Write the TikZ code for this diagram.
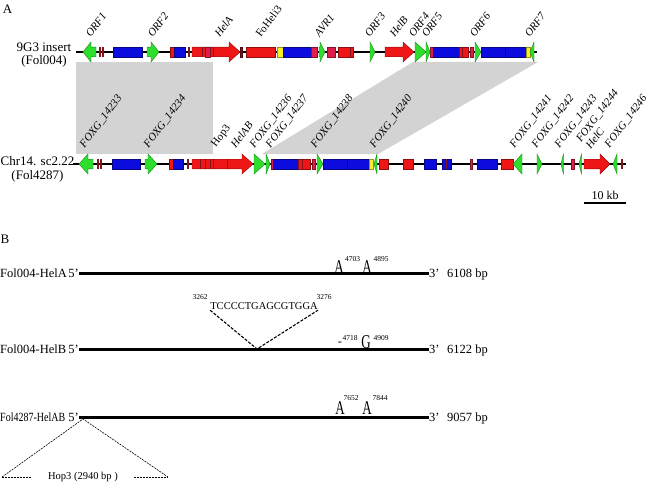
\documentclass[tikz,border=0pt]{standalone}
\usepackage{fontspec}
\setmainfont{Liberation Serif}
\usepackage{graphicx}
\usetikzlibrary{positioning}
\definecolor{geneGreen}{RGB}{45,222,45}
\definecolor{geneBlue}{RGB}{12,12,222}
\definecolor{geneRed}{RGB}{238,22,22}
\definecolor{geneCrimson}{RGB}{222,30,72}
\definecolor{geneYellow}{RGB}{250,240,40}
\definecolor{geneDark}{RGB}{130,18,28}
\definecolor{synGray}{RGB}{211,211,211}
\tikzset{
  gbox/.style={draw=#1!60!black, fill=#1, line width=0.4pt},
  gline/.style={line width=1.3pt},
  glab/.style={rotate=53, anchor=south west, inner sep=0.5pt,
    font=\fontsize{11}{12}\selectfont\itshape},
  glabup/.style={glab, font=\fontsize{11}{12}\selectfont},
  txt/.style={font=\fontsize{12.5}{13}\selectfont, inner sep=0pt},
  snp/.style={font=\fontsize{13}{13}\selectfont, inner sep=0pt},
  sup/.style={font=\fontsize{7.5}{8}\selectfont, inner sep=0pt},
  seqline/.style={line width=3pt},
  indel/.style={dash pattern=on 3pt off 1.5pt, line width=1.1pt},
  hopdash/.style={dash pattern=on 2pt off 1pt, line width=0.6pt},
}
% right-pointing gene: x1, x2 (tip), head length, colour, track y
\newcommand{\rgene}[5]{%
  \draw[gbox=#4] (#1,#5-4.8) -- (#2-#3,#5-4.8) -- (#2-#3,#5-10) -- (#2,#5)
    -- (#2-#3,#5+10) -- (#2-#3,#5+4.8) -- (#1,#5+4.8) -- cycle;}
% left-pointing gene: x1 (tip), x2, head length, colour, track y
\newcommand{\lgene}[5]{%
  \draw[gbox=#4] (#1,#5) -- (#1+#3,#5-10) -- (#1+#3,#5-4.8) -- (#2,#5-4.8)
    -- (#2,#5+4.8) -- (#1+#3,#5+4.8) -- (#1+#3,#5+10) -- cycle;}
\newcommand{\tallch}[1]{\scalebox{1}[1.5]{#1}}

\begin{document}
\begin{tikzpicture}[x=1pt,y=-1pt]
  \useasboundingbox (0,0) rectangle (650,487);
  \def\yA{52}
  \def\yB{164}

  % panel A: shared blocks
  \fill[synGray] (76,62) rectangle (213,154);
  \fill[synGray] (413,62) -- (538,62) -- (378,154) -- (262,154) -- cycle;

  \node[snp] (panA) at (7.5,9) {A};
  \node[txt, align=center, font=\fontsize{13}{13}\selectfont] (insA) at (44,55.5) {9G3 insert\\(Fol004)};
  \node[txt, align=center, font=\fontsize{13}{14}\selectfont] (insB) at (37.5,169) {Chr14. sc2.22\\(Fol4287)};

  % 9G3 insert
  \draw[gline] (76,\yA) -- (537,\yA);
  \foreach \a/\b/\c in {113/142/geneBlue, 170/174/geneRed, 174/185/geneBlue,
      240/242.5/geneDark, 246/275/geneRed, 277/283/geneYellow, 283/311/geneBlue,
      311/317/geneCrimson, 327/335/geneCrimson, 338/353/geneRed,
      430/433/geneCrimson, 433/459/geneBlue, 459/468/geneRed,
      470.5/473/geneCrimson, 481/505/geneBlue, 505/526/geneBlue, 526/530/geneYellow}
    \draw[gbox=\c] (\a,\yA-4.8) rectangle (\b,\yA+4.8);
  \foreach \x in {100,103,189}
    \fill[geneDark] (\x-0.7,\yA-4.8) rectangle (\x+0.7,\yA+4.8);
  \lgene{83}{96}{8}{geneGreen}{\yA}
  \rgene{147}{159}{8}{geneGreen}{\yA}
  \rgene{192}{240}{11}{geneRed}{\yA}
  \draw[gbox=geneCrimson] (205,\yA-4.8) rectangle (210,\yA+4.8);
  \rgene{319}{325}{5}{geneGreen}{\yA}
  \rgene{370}{375}{5}{geneGreen}{\yA}
  \rgene{385}{414}{11}{geneRed}{\yA}
  \rgene{415}{426}{11}{geneGreen}{\yA}
  \rgene{426}{430}{4}{geneGreen}{\yA}
  \rgene{475}{481}{6}{geneGreen}{\yA}
  \lgene{530}{534}{4}{geneGreen}{\yA}
  \foreach \x in {202,213,350,462}
    \draw[geneDark, line width=0.6pt] (\x,\yA-4.8) -- (\x,\yA+4.8);

  % Chr14 sc2.22
  \draw[gline] (73,\yB) -- (626,\yB);
  \foreach \a/\b/\c in {112/140/geneBlue, 169/173/geneRed, 173/183/geneBlue,
      271/273/geneCrimson, 273/298/geneBlue, 298/310/geneRed, 312/315/geneCrimson,
      323/347/geneBlue, 347/369/geneBlue, 369/373/geneYellow, 379/388/geneRed,
      403/413/geneRed, 424/436/geneBlue, 442/451/geneBlue, 470/472/geneCrimson,
      477/497/geneBlue, 501/513/geneRed, 571/574/geneCrimson}
    \draw[gbox=\c] (\a,\yB-4.8) rectangle (\b,\yB+4.8);
  \foreach \x in {98,101,188,622}
    \fill[geneDark] (\x-0.7,\yB-4.8) rectangle (\x+0.7,\yB+4.8);
  \lgene{79}{93}{9}{geneGreen}{\yB}
  \rgene{145}{157}{9}{geneGreen}{\yB}
  \rgene{192}{253}{11}{geneRed}{\yB}
  \rgene{254}{265}{11}{geneGreen}{\yB}
  \rgene{266}{270}{4}{geneGreen}{\yB}
  \rgene{317}{323}{6}{geneGreen}{\yB}
  \lgene{374}{377}{3}{geneGreen}{\yB}
  \lgene{513}{522}{9}{geneGreen}{\yB}
  \rgene{537}{542}{5}{geneGreen}{\yB}
  \lgene{561}{563.5}{2.5}{geneGreen}{\yB}
  \lgene{579}{581.5}{2.5}{geneGreen}{\yB}
  \rgene{584}{610}{10}{geneRed}{\yB}
  \lgene{613}{617}{4}{geneGreen}{\yB}
  \foreach \x in {200,205,210,213,227,302,446}
    \draw[geneDark, line width=0.6pt] (\x,\yB-4.8) -- (\x,\yB+4.8);

  % gene names
  \foreach \x/\t [count=\i] in {91/ORF1, 153/ORF2, 220/HelA, 320/AVR1, 370/ORF3,
      395/HelB, 414/ORF4, 427/ORF5, 475/ORF6, 530/ORF7}
    \node[glab] (topl\i) at (\x,39) {\t};
  \node[glabup] (heli) at (261,39) {FoHeli3};
  \foreach \x/\t [count=\i] in {86/FOXG\_14233, 150/FOXG\_14234, 236/HelAB,
      256/FOXG\_14236, 272/FOXG\_14237, 317/FOXG\_14238, 376/FOXG\_14240,
      516/FOXG\_14241, 538/FOXG\_14242, 561/FOXG\_14243, 611/FOXG\_14246}
    \node[glab] (botl\i) at (\x,150) {\t};
  \node[glabup] (hop3) at (218,150) {Hop3};
  \node[glab, align=left] (helc) at (591,151) {FOXG\_14244\\HelC};

  % scale bar
  \coordinate (sbL) at (584,203);
  \coordinate (sbR) at (626,203);
  \draw[gline] (sbL) -- (sbR) node[midway, above=3pt, txt, font=\fontsize{12}{12}\selectfont] (sbT) {10 kb};

  % panel B
  \node[snp] (panB) at (5,239.5) {B};
  \foreach \ly/\nm/\len/\id in {273/Fol004-HelA/6108/a, 349/Fol004-HelB/6122/b,
      417/{\scalebox{0.8}[1]{Fol4287-HelAB}}/9057/c} {
    \node[txt, anchor=base west] (nm\id) at (0,\ly+4.5) {\nm};
    \node[txt, anchor=base east] (p5\id) at (79,\ly+4.5) {5’};
    \node[txt, anchor=base west] (p3\id) at (429,\ly+4.5) {3’};
    \node[txt, anchor=base west] (bp\id) at (447,\ly+4.5) {\len{} bp};
    \draw[seqline] (p5\id.east |- 0,\ly) -- (p3\id.west |- 0,\ly);
  }

  % HelA variants
  \node[snp] (va1) at (339,267.5) {\tallch{A}};
  \node[sup] (va1n) at (352.5,259.5) {4703};
  \node[snp] (va2) at (367,267.5) {\tallch{A}};
  \node[sup] (va2n) at (381,259.5) {4895};

  % HelB variants
  \node[txt] (vb1) at (340,344) {-};
  \node[sup] (vb1n) at (350,338) {4718};
  \node[snp] (vb2) at (366,342) {\tallch{G}};
  \node[sup] (vb2n) at (381,338) {4909};
  \node[txt, font=\fontsize{10.5}{11}\selectfont] (seq) at (264,306.5) {TCCCCTGAGCGTGGA};
  \node[sup] (seqL) at (200,297) {3262};
  \node[sup] (seqR) at (324,297) {3276};
  \coordinate (vtip) at (257,349);
  \draw[indel] (seq.south west) -- (vtip) -- (seq.south east);

  % HelAB variants
  \node[snp] (vc1) at (340,408.5) {\tallch{A}};
  \node[sup] (vc1n) at (351,398.5) {7652};
  \node[snp] (vc2) at (367,408.5) {\tallch{A}};
  \node[sup] (vc2n) at (380,398.5) {7844};

  % Hop3 insertion
  \coordinate (hopTop) at (83,419);
  \coordinate (hopL) at (2,477);
  \coordinate (hopR) at (168,477);
  \node[txt, font=\fontsize{10.5}{11}\selectfont, inner xsep=16pt] (hop) at (83,477) {Hop3 (2940 bp )};
  \draw[hopdash] (hopL) -- (hopTop) -- (hopR);
  \draw[hopdash] (hopL) -- (hop.west);
  \draw[hopdash] (hop.east) -- (hopR);
\end{tikzpicture}
\end{document}
